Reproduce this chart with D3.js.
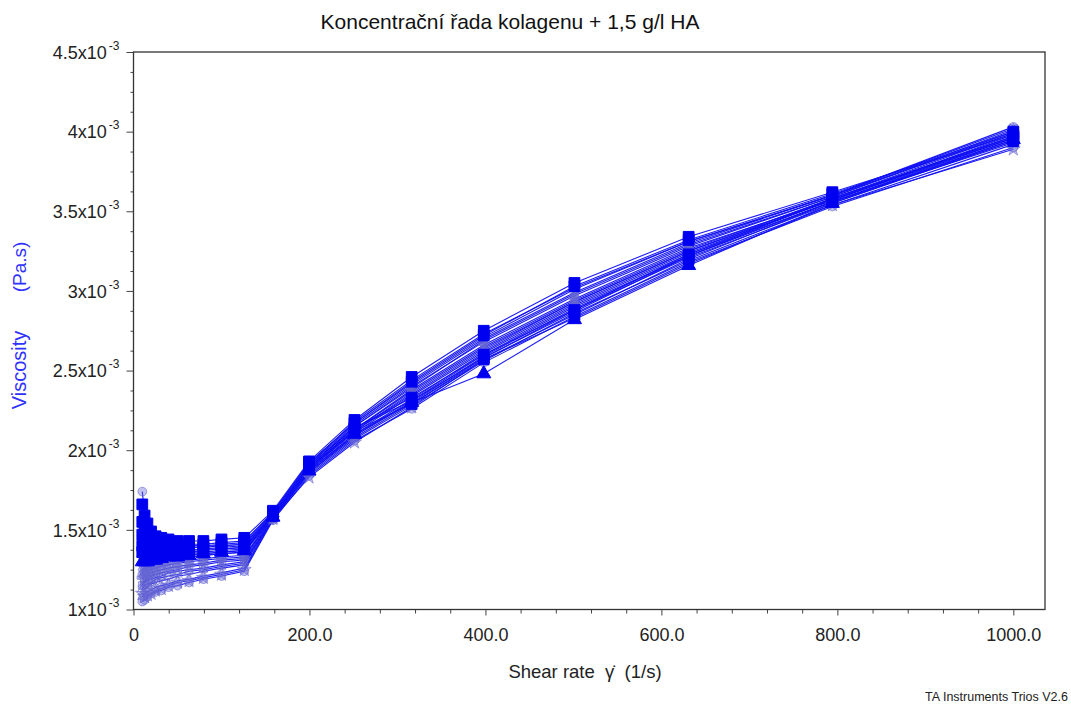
<!DOCTYPE html>
<html><head><meta charset="utf-8">
<script src="https://cdn.jsdelivr.net/npm/d3@7"></script>
<style>
body{margin:0;background:#fff}
text{font-family:"Liberation Sans",Arial,sans-serif}
</style>
</head><body>
<svg id="chart" width="1071" height="706"></svg>
<script>
// Shear rate (1/s)
const shearRates = [10, 12.59, 15.85, 19.95, 25.12, 31.62, 39.81, 50.12, 63.1, 79.43, 100, 125.9, 158.5, 199.5, 251.2, 316.2, 398.1, 501.2, 631, 794.3, 1000];
// Viscosity series, in units of 1e-3 Pa.s
const s1  = [1.66,1.59,1.54,1.49,1.46,1.45,1.44,1.43,1.43,1.43,1.44,1.45,1.62,1.93,2.19,2.46,2.75,3.05,3.34,3.62,3.98];
const s2  = [1.55,1.50,1.46,1.43,1.42,1.41,1.41,1.40,1.41,1.41,1.42,1.43,1.61,1.92,2.17,2.43,2.72,3.03,3.32,3.61,4.00];
const s3  = [1.47,1.44,1.42,1.40,1.39,1.38,1.38,1.38,1.39,1.39,1.40,1.41,1.60,1.90,2.14,2.31,2.58,2.87,3.22,3.58,3.96];
const s4  = [1.40,1.38,1.37,1.36,1.36,1.36,1.36,1.37,1.37,1.38,1.39,1.40,1.59,1.89,2.12,2.29,2.57,2.85,3.20,3.56,3.94];
const s5  = [1.30,1.30,1.30,1.31,1.31,1.32,1.33,1.33,1.34,1.35,1.36,1.37,1.58,1.87,2.10,2.30,2.48,2.82,3.16,3.55,3.95];
const s6  = [1.74,1.60,1.52,1.47,1.44,1.42,1.41,1.40,1.40,1.40,1.40,1.41,1.60,1.91,2.16,2.41,2.70,2.99,3.30,3.60,4.03];
const s7  = [1.35,1.33,1.33,1.33,1.33,1.33,1.34,1.34,1.35,1.35,1.36,1.37,1.59,1.90,2.15,2.40,2.68,2.97,3.28,3.59,4.01];
const s8  = [1.25,1.25,1.26,1.27,1.28,1.29,1.30,1.30,1.31,1.32,1.33,1.34,1.58,1.88,2.12,2.36,2.64,2.93,3.25,3.58,3.99];
const s9  = [1.20,1.21,1.22,1.23,1.24,1.25,1.26,1.27,1.28,1.29,1.31,1.32,1.58,1.88,2.11,2.34,2.62,2.92,3.24,3.57,3.97];
const s10 = [1.15,1.17,1.18,1.19,1.20,1.21,1.23,1.24,1.25,1.26,1.28,1.30,1.57,1.87,2.09,2.31,2.60,2.90,3.22,3.56,3.96];
const s11 = [1.12,1.13,1.14,1.16,1.17,1.18,1.19,1.21,1.22,1.24,1.26,1.28,1.57,1.86,2.08,2.29,2.58,2.88,3.21,3.55,3.94];
const s12 = [1.08,1.10,1.11,1.12,1.14,1.15,1.16,1.18,1.19,1.21,1.23,1.26,1.57,1.85,2.07,2.28,2.56,2.86,3.19,3.54,3.92];
const s13 = [1.05,1.06,1.08,1.10,1.11,1.12,1.14,1.15,1.17,1.19,1.21,1.24,1.56,1.84,2.06,2.26,2.55,2.84,3.18,3.53,3.90];
const s14 = [1.10,1.08,1.09,1.10,1.12,1.13,1.15,1.17,1.18,1.20,1.22,1.25,1.57,1.83,2.05,2.27,2.57,2.83,3.17,3.54,3.89];
const s15 = [1.28,1.28,1.28,1.29,1.30,1.31,1.32,1.32,1.33,1.34,1.35,1.36,1.58,1.89,2.13,2.38,2.66,2.95,3.27,3.57,3.98];
const s16 = [1.38,1.36,1.35,1.35,1.35,1.35,1.35,1.36,1.36,1.37,1.38,1.39,1.59,1.91,2.18,2.44,2.73,3.02,3.31,3.60,4.02];
const s17 = [1.45,1.42,1.40,1.39,1.38,1.37,1.37,1.37,1.37,1.38,1.38,1.39,1.60,1.90,2.15,2.39,2.69,2.98,3.29,3.59,4.00];
const s18 = [1.32,1.31,1.31,1.31,1.31,1.31,1.32,1.32,1.33,1.34,1.35,1.36,1.59,1.89,2.13,2.37,2.65,2.94,3.26,3.58,3.97];
const s19 = [1.22,1.23,1.24,1.25,1.26,1.27,1.28,1.29,1.30,1.31,1.32,1.33,1.58,1.88,2.12,2.35,2.63,2.93,3.25,3.57,3.96];
const s20 = [1.17,1.18,1.19,1.21,1.22,1.23,1.24,1.25,1.27,1.28,1.30,1.31,1.57,1.87,2.10,2.32,2.61,2.91,3.23,3.56,3.95];
const s21 = [1.13,1.15,1.16,1.17,1.19,1.20,1.21,1.22,1.24,1.25,1.27,1.29,1.57,1.86,2.09,2.30,2.59,2.89,3.22,3.56,3.93];
const s22 = [1.58,1.52,1.48,1.45,1.43,1.42,1.41,1.40,1.40,1.40,1.41,1.42,1.61,1.92,2.17,2.42,2.71,3.01,3.31,3.60,3.99];
const s23 = [1.36,1.35,1.34,1.34,1.34,1.34,1.35,1.35,1.36,1.36,1.37,1.38,1.59,1.90,2.14,2.33,2.60,2.88,3.23,3.58,3.97];

const seriesValues  = [s6, s7, s8, s9, s10, s11, s12, s13, s14, s15, s16, s17, s18, s19, s20, s21, s22, s5, s23, s4, s3, s2, s1];
const seriesMarkers = ["circle","triangle","diamond","cross","square","times","triangle2","circle","star","diamond","wye","triangle2","times","circle","times","triangle2","diamond","triangle","square","square","square","square","square"];
const seriesSolid   = [false,false,false,false,false,false,false,false,false,false,false,false,false,false,false,false,false,true,true,true,true,true,true];

const yTickValues = [1, 1.5, 2, 2.5, 3, 3.5, 4, 4.5];
const yTickLabels = ["1x10", "1.5x10", "2x10", "2.5x10", "3x10", "3.5x10", "4x10", "4.5x10"];
const yTickExp = "-3";
const xTickValues = [0, 200, 400, 600, 800, 1000];
const xTickLabels = ["0", "200.0", "400.0", "600.0", "800.0", "1000.0"];

const titleText = "Koncentrační řada kolagenu + 1,5 g/l HA";
const xTitle = "Shear rate  γ̇  (1/s)";
const yTitle1 = "Viscosity";
const yTitle2 = "(Pa.s)";
const footer = "TA Instruments Trios V2.6";

const svg = d3.select("#chart");
const L = 133.5, R = 1045, T = 52, B = 609.5;
const x = d3.scaleLinear().domain([0, 1036]).range([L, R]);
const y = d3.scaleLinear().domain([1, 4.5]).range([B, T]);

// title
svg.append("text").attr("x", 510).attr("y", 29).attr("text-anchor", "middle")
  .attr("font-size", 21).attr("fill", "#111").text(titleText);

// minor ticks
const yMinor = d3.range(1, 4.5001, 0.125).filter(v => !yTickValues.some(t => Math.abs(t - v) < 1e-6));
const xMinor = d3.range(0, 1036, 40).filter(v => !xTickValues.includes(v));
svg.append("g").attr("transform", `translate(${L},0)`)
  .call(d3.axisLeft(y).tickValues(yMinor).tickSize(3).tickFormat(""))
  .call(g => g.select(".domain").remove())
  .selectAll("line").attr("stroke", "#444");
svg.append("g").attr("transform", `translate(0,${B})`)
  .call(d3.axisBottom(x).tickValues(xMinor).tickSize(4).tickFormat(""))
  .call(g => g.select(".domain").remove())
  .selectAll("line").attr("stroke", "#444");

// y axis major
const yAx = svg.append("g").attr("transform", `translate(${L},0)`)
  .call(d3.axisLeft(y).tickValues(yTickValues).tickSize(7).tickPadding(14).tickFormat(""));
yAx.select(".domain").remove();
yAx.selectAll("line").attr("stroke", "#444");
yAx.selectAll(".tick text").each(function(d, i) {
  const t = d3.select(this).attr("font-size", 18).attr("fill", "#222")
    .attr("font-family", "Liberation Sans, Arial, sans-serif").attr("dy", "0.35em").attr("x", -14);
  t.append("tspan").text(yTickLabels[i]);
  t.append("tspan").attr("font-size", 12).attr("dy", "-0.75em").attr("dx", 2).text(yTickExp);
});

// x axis major
const xAx = svg.append("g").attr("transform", `translate(0,${B})`)
  .call(d3.axisBottom(x).tickValues(xTickValues).tickSize(6).tickPadding(13).tickFormat((d, i) => xTickLabels[i]));
xAx.select(".domain").remove();
xAx.selectAll("line").attr("stroke", "#444");
xAx.selectAll("text").attr("font-size", 18).attr("fill", "#222")
  .attr("font-family", "Liberation Sans, Arial, sans-serif");

// series
const line = d3.line().x((d, i) => x(shearRates[i])).y(d => y(d));
const symbolMap = {
  circle: d3.symbolCircle, triangle: d3.symbolTriangle, diamond: d3.symbolDiamond,
  cross: d3.symbolCross, square: d3.symbolSquare, times: d3.symbolTimes,
  triangle2: d3.symbolTriangle2, star: d3.symbolStar, wye: d3.symbolWye
};
const plot = svg.append("g");
seriesValues.forEach(vals => {
  plot.append("path").datum(vals).attr("d", line)
    .attr("fill", "none").attr("stroke", "#1010f4").attr("stroke-width", 1.1).attr("stroke-opacity", 0.95);
});
seriesValues.forEach((vals, si) => {
  const solid = seriesSolid[si];
  const m = seriesMarkers[si];
  const stroked = (m === "times" || m === "triangle2");
  const sym = d3.symbol().type(symbolMap[m]).size(solid ? (m === "square" ? 115 : 85) : 60);
  plot.append("g").selectAll("path").data(vals).join("path")
    .attr("transform", (d, i) => `translate(${x(shearRates[i])},${y(d)})`)
    .attr("d", sym)
    .attr("fill", solid ? "#0000f0" : (stroked ? "none" : "#6a6ad8"))
    .attr("fill-opacity", solid ? 1 : 0.4)
    .attr("stroke", solid ? "#0000f0" : "#6060d0")
    .attr("stroke-opacity", solid ? 1 : 0.55)
    .attr("stroke-width", 1);
});

// frame
svg.append("rect").attr("x", L).attr("y", T).attr("width", R - L).attr("height", B - T)
  .attr("fill", "none").attr("stroke", "#333").attr("stroke-width", 1.3);

// axis titles
svg.append("text").attr("x", 585).attr("y", 678).attr("text-anchor", "middle")
  .attr("font-size", 18.5).attr("fill", "#222").style("white-space", "pre").text(xTitle);
svg.append("text").attr("transform", "translate(26,370) rotate(-90)").attr("text-anchor", "middle")
  .attr("font-size", 20).attr("fill", "#3030ff").text(yTitle1);
svg.append("text").attr("transform", "translate(26,267) rotate(-90)").attr("text-anchor", "middle")
  .attr("font-size", 19).attr("fill", "#3030ff").text(yTitle2);
svg.append("text").attr("x", 1068).attr("y", 701).attr("text-anchor", "end")
  .attr("font-size", 12.5).attr("fill", "#222").text(footer);
</script>
</body></html>
